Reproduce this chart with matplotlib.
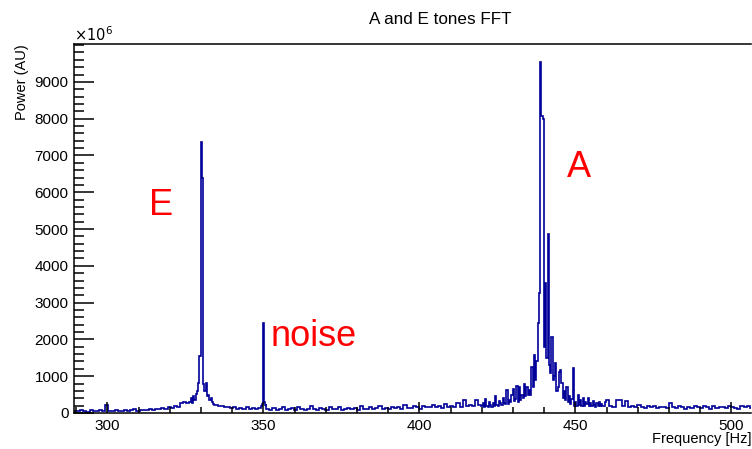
"""A and E tones FFT, ROOT-style histogram redrawn with matplotlib."""

import matplotlib
matplotlib.use("Agg")
import matplotlib.pyplot as plt
import numpy as np
from matplotlib.ticker import FixedLocator, MultipleLocator

plt.rcParams["font.family"] = ["Liberation Sans", "DejaVu Sans"]

# power in units of 1e6, each segment is (first bin edge, bin width, values)
seg_low = [60, 45, 70, 55, 40, 80, 50, 65, 90, 55,
           230, 60, 45, 70, 50, 60, 85, 55, 70, 100,
           60, 80, 95, 70, 110, 85, 120, 100, 130, 110,
           150, 130, 190, 170, 260, 300, 280]
seg_e_peak = [300, 420, 280, 450, 350, 520, 600, 820, 1550, 7364,
              6385, 800, 600, 820, 450, 500, 350, 420, 300, 250]
seg_mid1 = [230, 180, 200, 150, 170, 130, 160, 120, 140, 110,
            150, 100, 130, 120, 140]
seg_noise = [200, 180, 250, 2445, 400, 300, 220, 250]
seg_mid2 = [120, 90, 140, 80, 110, 150, 90, 100, 130, 80,
            160, 110, 90, 120, 200, 100, 80, 130, 110, 90,
            150, 120, 100, 170, 90, 110, 140, 100, 130, 90,
            180, 120, 100, 150, 110, 130, 200, 120, 140, 110,
            170, 130, 150, 120, 220, 140, 130, 180, 150, 120,
            200, 150, 170, 230, 150, 180, 140, 250, 170, 200,
            160, 280, 170, 350, 190, 210, 180, 350, 220]
seg_a_peak = [180, 260, 150, 390, 200, 170, 300, 220, 160, 280,
              200, 450, 230, 190, 330, 260, 210, 400, 280, 240,
              630, 250, 350, 300, 480, 650, 320, 380, 740, 300,
              715, 350, 500, 420, 800, 450, 710, 500, 620, 480,
              1250, 700, 1580, 900, 1400, 2450, 3260, 9546, 8080, 8000,
              1800, 3530, 1500, 4860, 1300, 1100, 2070, 900, 1000, 1360,
              600, 700, 1115, 1170, 815, 400, 600, 350, 710, 300,
              450, 250, 380, 1220, 200, 300, 180, 490, 220, 350,
              200, 400, 180, 300, 250, 400, 200, 280, 180, 320,
              230, 170, 280, 200, 300, 180, 250, 200, 180, 290]
seg_high = [350, 180, 160, 350, 350, 200, 320, 170, 200, 150,
            220, 160, 140, 190, 150, 200, 130, 170, 150, 140,
            260, 160, 130, 180, 150, 120, 170, 140, 200, 150,
            130, 180, 160, 120, 200, 140, 150, 170, 130, 180,
            160, 140, 120, 200, 150, 180, 140, 160]

segments = [
    (289.3, 1.0, seg_low),
    (326.3, 0.4, seg_e_peak),
    (334.3, 1.0, seg_mid1),
    (349.3, 0.2, seg_noise),
    (350.9, 1.0, seg_mid2),
    (419.9, 0.4, seg_a_peak),
    (459.9, 1.0, seg_high),
]

edges = [segments[0][0]]
values = []
for start, width, vals in segments:
    e = start + width * np.arange(1, len(vals) + 1)
    edges.extend(e)
    values.extend(vals)
edges = np.array(edges)
values = np.array(values, dtype=float)

y_major = [0, 1000, 2000, 3000, 4000, 5000, 6000, 7000, 8000, 9000]

W, H = 752, 449
fig = plt.figure(figsize=(W / 100, H / 100), dpi=100)
ax = fig.add_axes([74 / W, 1 - 413 / H, (751 - 74) / W, (413 - 44) / H])

ax.stairs(values, edges, color="#000099", linewidth=1.2, baseline=0)

ax.set_xlim(289.3, 506.3)
ax.set_ylim(0, 10030)

ax.xaxis.set_major_locator(MultipleLocator(50))
ax.xaxis.set_minor_locator(MultipleLocator(10))
ax.yaxis.set_major_locator(FixedLocator(y_major))
ax.yaxis.set_minor_locator(MultipleLocator(200))
ax.tick_params(axis="both", which="both", direction="in", width=1.1,
               labelsize=11, colors="black")
ax.tick_params(axis="y", which="major", length=14.4, pad=4)
ax.tick_params(axis="y", which="minor", length=7.2)
ax.tick_params(axis="x", which="major", length=8, pad=4)
ax.tick_params(axis="x", which="minor", length=4)
for side in ("left", "bottom", "top"):
    ax.spines[side].set_linewidth(1.1)
ax.spines["right"].set_visible(False)

ax.text(313.4, 5380, "E", color="red", fontsize=26, ha="left", va="baseline")
ax.text(447.2, 6413, "A", color="red", fontsize=26, ha="left", va="baseline")
ax.text(352.2, 1820, "noise", color="red", fontsize=26, ha="left", va="baseline")

fig.text(440 / W, 1 - 19 / H, "A and E tones FFT", fontsize=12.3,
         ha="center", va="center")
fig.text(74 / W, 1 - 44 / H, r"$\times10^{6}$", fontsize=10.5,
         ha="left", va="bottom")
fig.text(22 / W, 1 - 44 / H, "Power (AU)", fontsize=10.5, rotation=90,
         ha="center", va="top")
fig.text(751 / W, 1 - 446 / H, "Frequency [Hz]", fontsize=10.5,
         ha="right", va="bottom")

fig.savefig("out.png", dpi=100)
plt.close(fig)
